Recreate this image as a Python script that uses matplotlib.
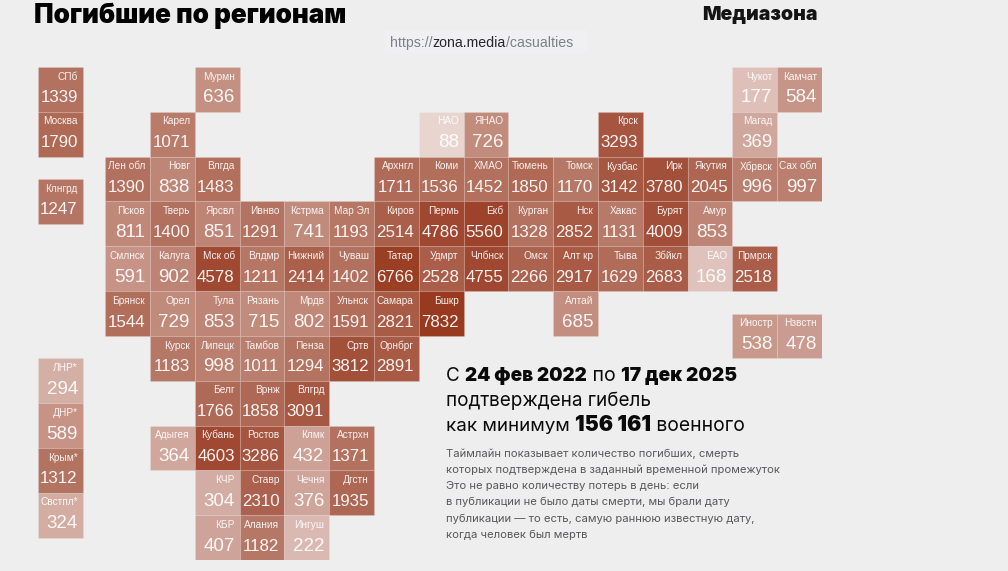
import numpy as np
import matplotlib
matplotlib.use("Agg")
import matplotlib.pyplot as plt
from matplotlib.colors import LinearSegmentedColormap
from matplotlib.patches import Rectangle

# =============================================
# DATA
# =============================================
region_names = [
    "СПб", "Мурмн", "Чукот", "Камчат",
    "Москва", "Карел", "НАО", "ЯНАО", "Крск", "Магад",
    "Лен обл", "Новг", "Влгда", "Архнгл", "Коми", "ХМАО", "Тюмень", "Томск", "Кузбас", "Ирк", "Якутия", "Хбрвск", "Сах обл",
    "Клнгрд",
    "Псков", "Тверь", "Ярсвл", "Ивнво", "Кстрма", "Мар Эл", "Киров", "Пермь", "Екб", "Курган", "Нск", "Хакас", "Бурят", "Амур",
    "Смлнск", "Калуга", "Мск об", "Влдмр", "Нижний", "Чуваш", "Татар", "Удмрт", "Члбнск", "Омск", "Алт кр", "Тыва", "Збйкл", "ЕАО", "Прмрск",
    "Брянск", "Орел", "Тула", "Рязань", "Мрдв", "Ульнск", "Самара", "Бшкр", "Алтай",
    "Иностр", "Нзвстн",
    "Курск", "Липецк", "Тамбов", "Пенза", "Сртв", "Орнбрг",
    "ЛНР*", "Белг", "Врнж", "Влгрд",
    "ДНР*", "Адыгея", "Кубань", "Ростов", "Клмк", "Астрхн",
    "Крым*", "КЧР", "Ставр", "Чечня", "Дгстн",
    "Свстпл*", "КБР", "Алания", "Ингуш",
]
region_values = [
    1339, 636, 177, 584,
    1790, 1071, 88, 726, 3293, 369,
    1390, 838, 1483, 1711, 1536, 1452, 1850, 1170, 3142, 3780, 2045, 996, 997,
    1247,
    811, 1400, 851, 1291, 741, 1193, 2514, 4786, 5560, 1328, 2852, 1131, 4009, 853,
    591, 902, 4578, 1211, 2414, 1402, 6766, 2528, 4755, 2266, 2917, 1629, 2683, 168, 2518,
    1544, 729, 853, 715, 802, 1591, 2821, 7832, 685,
    538, 478,
    1183, 998, 1011, 1294, 3812, 2891,
    294, 1766, 1858, 3091,
    589, 364, 4603, 3286, 432, 1371,
    1312, 304, 2310, 376, 1935,
    324, 407, 1182, 222,
]
region_cols = [
    -1.5, 2, 14, 15,
    -1.5, 1, 7, 8, 11, 14,
    0, 1, 2, 6, 7, 8, 9, 10, 11, 12, 13, 14, 15,
    -1.5,
    0, 1, 2, 3, 4, 5, 6, 7, 8, 9, 10, 11, 12, 13,
    0, 1, 2, 3, 4, 5, 6, 7, 8, 9, 10, 11, 12, 13, 14,
    0, 1, 2, 3, 4, 5, 6, 7, 10,
    14, 15,
    1, 2, 3, 4, 5, 6,
    -1.5, 2, 3, 4,
    -1.5, 1, 2, 3, 4, 5,
    -1.5, 2, 3, 4, 5,
    -1.5, 2, 3, 4,
]
region_rows = [
    0, 0, 0, 0,
    1, 1, 1, 1, 1, 1,
    2, 2, 2, 2, 2, 2, 2, 2, 2, 2, 2, 2, 2,
    2.5,
    3, 3, 3, 3, 3, 3, 3, 3, 3, 3, 3, 3, 3, 3,
    4, 4, 4, 4, 4, 4, 4, 4, 4, 4, 4, 4, 4, 4, 4,
    5, 5, 5, 5, 5, 5, 5, 5, 5,
    5.5, 5.5,
    6, 6, 6, 6, 6, 6,
    6.5, 7, 7, 7,
    7.5, 8, 8, 8, 8, 8,
    8.5, 9, 9, 9, 9,
    9.5, 10, 10, 10,
]

title = "Погибшие по регионам"
brand = "Медиазона"
# текст, жирный ли, размер
headline = [
    [("С ", False, 13.6), ("24 фев 2022", True, 13.6), (" по ", False, 14), ("17 дек 2025", True, 13.8)],
    [("подтверждена гибель", False, 13.6)],
    [("как минимум ", False, 13.5), ("156 161", True, 15.3), (" военного", False, 13.9)],
]
note_lines = [
    "Таймлайн показывает количество погибших, смерть",
    "которых подтверждена в заданный временной промежуток",
    "Это не равно количеству потерь в день: если",
    "в публикации не было даты смерти, мы брали дату",
    "публикации — то есть, самую раннюю известную дату,",
    "когда человек был мертв",
]
url_parts = [("https://", "#7d8089"), ("zona.media", "#26262c"), ("/casualties", "#7d8089")]

# =============================================
# STYLE
# =============================================
bg = "#eeeeee"
W, H = 1008, 571
sans = ["Liberation Sans", "DejaVu Sans"]
heavy = ["Inter", "DejaVu Sans"]

# тайлы: светлый -> темный, шкала по корню из значения
tile_cmap = LinearSegmentedColormap.from_list("tiles", [
    (0.00, "#e8d5d0"),
    (0.05, "#ddbfb8"),
    (0.12, "#d0a79d"),
    (0.20, "#c49082"),
    (0.34, "#b37260"),
    (0.51, "#aa5f4a"),
    (0.755, "#9f4730"),
    (1.00, "#983a1f"),
])


def tile_color(val):
    lo, hi = np.sqrt(88), np.sqrt(7832)
    return tile_cmap((np.sqrt(val) - lo) / (hi - lo))


fig = plt.figure(figsize=(W / 100, H / 100), dpi=100)
fig.patch.set_facecolor(bg)

# --- Tile grid ---
ax = fig.add_axes([38 / W, 1 - 560 / H, 784 / W, 493 / H])
ax.set_xlim(-1.5, 16)
ax.set_ylim(11, 0)
ax.axis("off")

for name, val, col, row in zip(region_names, region_values, region_cols, region_rows):
    ax.add_patch(Rectangle((col, row), 1, 1, facecolor=tile_color(val),
                           edgecolor=(1, 1, 1, 0.12), linewidth=0.8))
    ax.text(col + 0.89, row + 0.215, name, ha="right", va="center",
            color=(1, 1, 1, 0.9), fontsize=7.3, family=sans)
    # короткие числа набраны крупнее
    num_size = 12.2 if val >= 1000 else 13.5
    ax.text(col + 0.89, row + 0.69, str(val), ha="right", va="center",
            color=(1, 1, 1, 0.93), fontsize=num_size, family=sans)

# --- Overlay in pixel coords for text ---
top = fig.add_axes([0, 0, 1, 1])
top.set_xlim(0, W)
top.set_ylim(H, 0)
top.axis("off")
top.patch.set_alpha(0)

renderer = fig.canvas.get_renderer()


def put_runs(x, y, runs, fam=("Inter", "DejaVu Sans")):
    # кусочки текста подряд, разные начертания
    for text, bold, color, size in runs:
        t = top.text(x, y, text.replace(" ", "\u00a0"), ha="left", va="baseline",
                     fontsize=size, color=color, family=list(fam),
                     fontweight=900 if bold else 400)
        x += t.get_window_extent(renderer).width


top.text(34, 23, title, ha="left", va="baseline", fontsize=18.8, fontweight=900,
         family=heavy, color="black")
top.text(818, 20, brand, ha="right", va="baseline", fontsize=14, fontweight=900,
         family=heavy, color="#141414")

top.add_patch(Rectangle((385, 30), 202, 23, facecolor="#f0f0f3", edgecolor="none"))
put_runs(390, 47, [(s, False, c, 10.15) for s, c in url_parts], fam=sans)

for line, y in zip(headline, [381, 406, 431]):
    put_runs(446, y, [(s, b, "#0a0a0a", sz) for s, b, sz in line])

for line, y in zip(note_lines, [457, 473, 489, 505, 522, 538]):
    top.text(446, y, line, ha="left", va="baseline", fontsize=8.07,
             family=heavy, color="#58585c")

plt.savefig("out.png", dpi=100, facecolor=bg)
